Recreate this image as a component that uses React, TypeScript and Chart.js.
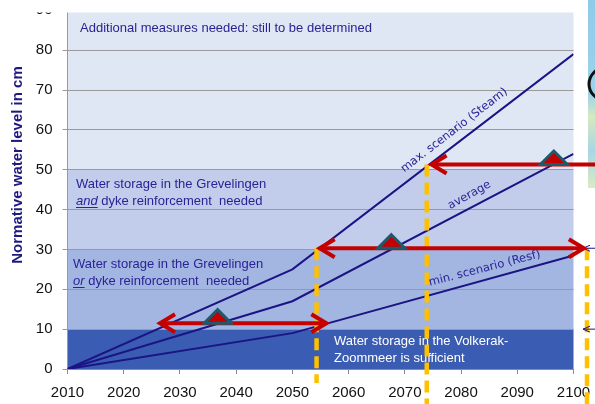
import React, { useEffect, useRef } from 'react';
import { Chart, registerables } from 'chart.js';

Chart.register(...registerables);

// ---- data ----
const years = [2010, 2050, 2100];
const maxScenario = [0, 25, 79];
const averageScenario = [0, 17, 54];
const minScenario = [0, 9, 28.5];

const xTickValues = [2010, 2020, 2030, 2040, 2050, 2060, 2070, 2080, 2090, 2100];
const yTickValues = [0, 10, 20, 30, 40, 50, 60, 70, 80, 90];

const bandLimits = [0, 10, 30, 50, 90];
const bandColors = ['#3a5cb2', '#a3b5e1', '#c1cdeb', '#dfe6f4'];

const arrowLevels = [11.5, 30.3, 51.3];
const arrowStarts = [2026.1, 2054.5, 2074.4];
const arrowEnds = [2056.4, 2102.2, 2112];
const arrowRightHead = [true, true, false];
const triangleYears = [2036.7, 2067.6, 2096.5];
const dashYears = [2054.3, 2073.9, 2102.4];
const dashTops = [30.3, 51.3, 30.3];

const NAVY = '#1c1485';
const TEXT_NAVY = '#2a2396';
const FONT = '"Liberation Sans", Arial, sans-serif';

const toPoints = (vals: number[]) => vals.map((v, i) => ({ x: years[i], y: v }));

const decorPlugin = {
  id: 'decor',
  beforeDraw(chart: any) {
    const { ctx, chartArea, scales } = chart;
    const y = scales.y;
    ctx.save();
    for (let i = 0; i < bandColors.length; i++) {
      const top = y.getPixelForValue(bandLimits[i + 1]);
      const bottom = y.getPixelForValue(bandLimits[i]);
      ctx.fillStyle = bandColors[i];
      ctx.fillRect(chartArea.left, top, chartArea.right - chartArea.left, bottom - top);
    }

    // picture fragment at right edge
    const g = ctx.createLinearGradient(0, 0, 0, 188);
    g.addColorStop(0, '#8fcbea');
    g.addColorStop(0.5, '#9dd2ea');
    g.addColorStop(0.62, '#d6e9bf');
    g.addColorStop(0.8, '#a9d6e4');
    g.addColorStop(1, '#d9ebc2');
    ctx.fillStyle = g;
    ctx.fillRect(588, 0, 7, 188);
    ctx.strokeStyle = '#111111';
    ctx.lineWidth = 3;
    ctx.beginPath();
    ctx.arc(605, 84, 16, 0, Math.PI * 2);
    ctx.stroke();
    ctx.restore();
  },
  afterDatasetsDraw(chart: any) {
    const { ctx, scales } = chart;
    const x = scales.x;
    const y = scales.y;
    const px = (v: number) => x.getPixelForValue(v);
    const py = (v: number) => y.getPixelForValue(v);

    ctx.save();
    // region texts
    ctx.textBaseline = 'middle';
    ctx.textAlign = 'left';
    ctx.font = `13px ${FONT}`;
    ctx.fillStyle = TEXT_NAVY;
    ctx.fillText('Additional measures needed: still to be determined', 80, 28);

    const italicLine = (word: string, rest: string, lx: number, ly: number) => {
      ctx.font = `italic 13px ${FONT}`;
      ctx.fillText(word, lx, ly);
      const w = ctx.measureText(word).width;
      ctx.fillRect(lx, ly + 6, w, 1);
      ctx.font = `13px ${FONT}`;
      ctx.fillText(rest, lx + w, ly);
    };
    ctx.fillText('Water storage in the Grevelingen', 76, 184);
    italicLine('and', ' dyke reinforcement  needed', 76, 201);
    ctx.fillText('Water storage in the Grevelingen', 73, 264);
    italicLine('or', ' dyke reinforcement  needed', 73, 281);

    ctx.fillStyle = '#ffffff';
    ctx.fillText('Water storage in the Volkerak-', 334, 341);
    ctx.fillText('Zoommeer is sufficient', 334, 358);

    // labels along lines
    const rotated = (text: string, yr: number, val: number, deg: number, size: number) => {
      ctx.save();
      ctx.translate(px(yr), py(val));
      ctx.rotate((deg * Math.PI) / 180);
      ctx.font = `${size}px "DejaVu Sans", ${FONT}`;
      ctx.fillStyle = TEXT_NAVY;
      ctx.textAlign = 'center';
      ctx.textBaseline = 'middle';
      ctx.fillText(text, 0, 0);
      ctx.restore();
    };
    rotated('max. scenario (Steam)', 2078.8, 59.9, -37.5, 11.5);
    rotated('average', 2081.5, 43.6, -29, 11.5);
    rotated('min. scenario (Resf)', 2084.2, 25.2, -14.5, 11.5);

    // dashed yellow verticals
    ctx.strokeStyle = '#ffc000';
    ctx.lineWidth = 4.5;
    ctx.setLineDash([12, 6]);
    for (let i = 0; i < dashYears.length; i++) {
      ctx.beginPath();
      ctx.moveTo(px(dashYears[i]), py(dashTops[i]));
      ctx.lineTo(px(dashYears[i]), i === 0 ? chart.height - 21 : chart.height);
      ctx.stroke();
    }
    ctx.setLineDash([]);

    // small navy chevrons at right
    ctx.strokeStyle = NAVY;
    ctx.lineWidth = 1;
    [10, 30.3].forEach((lv) => {
      const cy = py(lv);
      ctx.beginPath();
      ctx.moveTo(590, cy - 3);
      ctx.lineTo(583, cy);
      ctx.lineTo(590, cy + 3);
      ctx.moveTo(583, cy);
      ctx.lineTo(595, cy);
      ctx.stroke();
    });

    // red arrows
    ctx.strokeStyle = '#c40000';
    ctx.lineWidth = 4;
    ctx.lineJoin = 'miter';
    for (let i = 0; i < arrowLevels.length; i++) {
      const ay = py(arrowLevels[i]);
      const x0 = px(arrowStarts[i]);
      const x1 = px(arrowEnds[i]);
      ctx.beginPath();
      ctx.moveTo(x0 + 2, ay);
      ctx.lineTo(x1 - (arrowRightHead[i] ? 2 : 0), ay);
      ctx.stroke();
      ctx.beginPath();
      ctx.moveTo(x0 + 17, ay - 9);
      ctx.lineTo(x0 + 2, ay);
      ctx.lineTo(x0 + 17, ay + 9);
      ctx.stroke();
      if (arrowRightHead[i]) {
        ctx.beginPath();
        ctx.moveTo(x1 - 17, ay - 9);
        ctx.lineTo(x1 - 2, ay);
        ctx.lineTo(x1 - 17, ay + 9);
        ctx.stroke();
      }
    }

    // triangles
    for (let i = 0; i < triangleYears.length; i++) {
      const tx = px(triangleYears[i]);
      const ty = py(arrowLevels[i]);
      ctx.beginPath();
      ctx.moveTo(tx, ty - 13.5);
      ctx.lineTo(tx + 13.5, ty);
      ctx.lineTo(tx - 13.5, ty);
      ctx.closePath();
      ctx.fillStyle = '#c40000';
      ctx.fill();
      ctx.strokeStyle = '#1d5a6e';
      ctx.lineWidth = 3;
      ctx.stroke();
    }
    ctx.restore();
  },
  afterDraw(chart: any) {
    const { ctx } = chart;
    ctx.save();
    // white strip at top (image crop)
    ctx.fillStyle = '#ffffff';
    ctx.fillRect(0, 0, 586, 12.5);

    // y axis title
    ctx.translate(18, 165);
    ctx.rotate(-Math.PI / 2);
    ctx.font = `bold 15px ${FONT}`;
    ctx.fillStyle = '#1f1a80';
    ctx.textAlign = 'center';
    ctx.textBaseline = 'middle';
    ctx.fillText('Normative water level in cm', 0, 0);
    ctx.restore();
  },
};

export default function App() {
  const ref = useRef<HTMLCanvasElement | null>(null);
  useEffect(() => {
    if (!ref.current) return;
    const lineDs = (label: string, vals: number[]) => ({
      label,
      data: toPoints(vals),
      borderColor: NAVY,
      borderWidth: 2,
      pointRadius: 0,
      fill: false,
      tension: 0,
    });
    const chart = new Chart(ref.current, {
      type: 'line',
      data: {
        datasets: [
          lineDs('max. scenario (Steam)', maxScenario),
          lineDs('average', averageScenario),
          lineDs('min. scenario (Resf)', minScenario),
        ],
      },
      options: {
        animation: false,
        responsive: false,
        devicePixelRatio: 1,
        layout: { padding: { top: 10.3, right: 21.5, left: 0, bottom: 0 } },
        plugins: { legend: { display: false }, tooltip: { enabled: false }, title: { display: false } },
        scales: {
          x: {
            type: 'linear',
            min: 2010,
            max: 2100,
            afterBuildTicks: (s: any) => {
              s.ticks = xTickValues.map((v) => ({ value: v }));
            },
            afterFit: (s: any) => {
              s.height = 35;
              s.paddingLeft = 0;
              s.paddingRight = 0;
            },
            ticks: {
              color: '#111111',
              font: { family: FONT, size: 15 },
              padding: 10,
              maxRotation: 0,
              autoSkip: false,
              callback: (v: any) => String(v),
            },
            grid: { display: true, drawOnChartArea: false, tickLength: 5, color: '#8c8c8c' },
            border: { display: true, color: '#8c8c8c' },
          },
          y: {
            type: 'linear',
            min: 0,
            max: 90,
            afterBuildTicks: (s: any) => {
              s.ticks = yTickValues.map((v) => ({ value: v }));
            },
            afterFit: (s: any) => {
              s.width = 67.5;
              s.paddingTop = 0;
              s.paddingBottom = 0;
            },
            ticks: {
              color: '#111111',
              font: { family: FONT, size: 15 },
              padding: 10,
              autoSkip: false,
            },
            grid: { color: '#9a9a9a', lineWidth: 1, tickLength: 5 },
            border: { display: true, color: '#9a9a9a' },
          },
        },
      },
      plugins: [decorPlugin],
    });
    return () => chart.destroy();
  }, []);
  return (
    <div style={{ position: 'absolute', left: 0, top: 0, width: 595, height: 404, background: '#fff' }}>
      <canvas ref={ref} width={595} height={404} style={{ display: 'block' }} />
    </div>
  );
}
